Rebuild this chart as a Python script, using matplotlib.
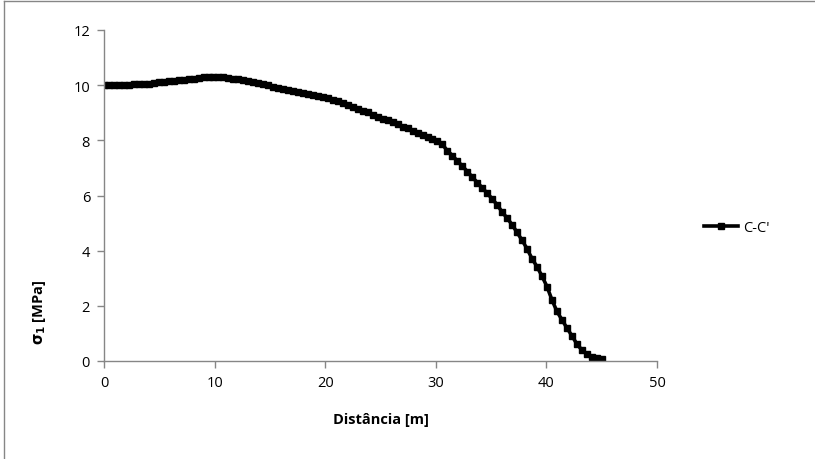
import matplotlib.pyplot as plt
from matplotlib.lines import Line2D

# distance along section C-C' [m]
distancia = [
    0.00, 0.45, 0.90, 1.35, 1.80, 2.25, 2.70, 3.15, 3.60, 4.05,
    4.50, 4.95, 5.40, 5.85, 6.30, 6.75, 7.20, 7.65, 8.10, 8.55,
    9.00, 9.45, 9.90, 10.35, 10.80, 11.25, 11.70, 12.15, 12.60, 13.05,
    13.50, 13.95, 14.40, 14.85, 15.30, 15.75, 16.20, 16.65, 17.10, 17.55,
    18.00, 18.45, 18.90, 19.35, 19.80, 20.25, 20.70, 21.15, 21.60, 22.05,
    22.50, 22.95, 23.40, 23.85, 24.30, 24.75, 25.20, 25.65, 26.10, 26.55,
    27.00, 27.45, 27.90, 28.35, 28.80, 29.25, 29.70, 30.15, 30.60, 31.05,
    31.50, 31.95, 32.40, 32.85, 33.30, 33.75, 34.20, 34.65, 35.10, 35.55,
    36.00, 36.45, 36.90, 37.35, 37.80, 38.25, 38.70, 39.15, 39.60, 40.05,
    40.50, 40.95, 41.40, 41.85, 42.30, 42.75, 43.20, 43.65, 44.10, 44.55,
    45.00,
]

# sigma_1 [MPa]
sigma1 = [
    10.00, 10.00, 10.01, 10.01, 10.02, 10.02, 10.03, 10.04, 10.05, 10.06,
    10.08, 10.10, 10.12, 10.14, 10.16, 10.18, 10.20, 10.22, 10.24, 10.26,
    10.28, 10.30, 10.31, 10.30, 10.29, 10.27, 10.24, 10.21, 10.18, 10.15,
    10.11, 10.07, 10.03, 9.99, 9.95, 9.91, 9.87, 9.83, 9.79, 9.75,
    9.71, 9.67, 9.63, 9.59, 9.56, 9.52, 9.48, 9.43, 9.36, 9.29,
    9.22, 9.15, 9.08, 9.01, 8.93, 8.86, 8.79, 8.72, 8.65, 8.58,
    8.50, 8.43, 8.35, 8.27, 8.19, 8.11, 8.04, 7.97, 7.85, 7.62,
    7.45, 7.25, 7.07, 6.87, 6.67, 6.47, 6.28, 6.08, 5.88, 5.66,
    5.40, 5.18, 4.94, 4.66, 4.38, 4.07, 3.71, 3.42, 3.08, 2.70,
    2.22, 1.80, 1.50, 1.20, 0.92, 0.62, 0.40, 0.25, 0.16, 0.12,
    0.09,
]

serie_label = "C-C'"
x_ticks = [0, 10, 20, 30, 40, 50]
y_ticks = [0, 2, 4, 6, 8, 10, 12]

GRAY = "#868686"

plt.rcParams["font.family"] = ["Open Sans", "DejaVu Sans"]
plt.rcParams["mathtext.fontset"] = "dejavusans"


def main():
    fig = plt.figure(figsize=(8.15, 4.6), dpi=100)
    ax = fig.add_axes([104 / 815, 1 - 362 / 460, 553 / 815, 331 / 460])

    ax.plot(distancia, sigma1, color="black", linewidth=2.6,
            marker="s", markersize=4.8, label=serie_label)

    ax.set_xlim(0, 50)
    ax.set_ylim(0, 12)
    ax.set_xticks(x_ticks)
    ax.set_yticks(y_ticks)
    ax.tick_params(axis="both", direction="out", length=5, width=1,
                   color=GRAY, labelsize=10.5, pad=5)

    for side in ("top", "right"):
        ax.spines[side].set_visible(False)
    for side in ("left", "bottom"):
        ax.spines[side].set_color(GRAY)
        ax.spines[side].set_linewidth(1)

    ax.set_xlabel("Distância [m]", fontsize=10.5, fontweight="bold", labelpad=16)
    fig.text(40 / 815, 1 - 312 / 460, r"$\mathbf{\sigma_1}$ [MPa]",
             rotation=90, fontsize=10.5, fontweight="bold",
             ha="center", va="center")

    # legend entry placed to the right like the spreadsheet chart
    ax.legend(loc="center left", bbox_to_anchor=(704 / 815, 1 - 229 / 460),
              bbox_transform=fig.transFigure, frameon=False, fontsize=10.5,
              handlelength=2.35, handletextpad=0.3, borderpad=0,
              borderaxespad=0)

    # chart area border (only top and left edge visible in the crop)
    fig.add_artist(Line2D([4 / 815, 1], [1 - 2 / 460, 1 - 2 / 460],
                          transform=fig.transFigure, color=GRAY, linewidth=1))
    fig.add_artist(Line2D([4 / 815, 4 / 815], [0, 1 - 2 / 460],
                          transform=fig.transFigure, color=GRAY, linewidth=1))

    fig.savefig("out.png", dpi=100)
    plt.close(fig)


if __name__ == "__main__":
    main()
